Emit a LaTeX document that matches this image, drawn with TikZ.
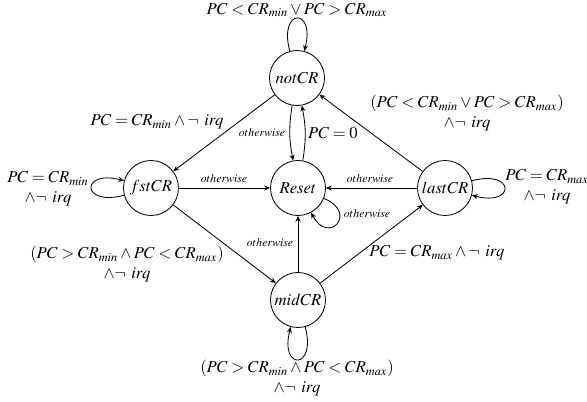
\documentclass[tikz,border=0pt]{standalone}
\usepackage{mathptmx}
\usetikzlibrary{arrows.meta}
\begin{document}
\begin{tikzpicture}[x=0.6pt,y=-0.6pt,
  state/.style={circle,draw,line width=0.5pt,minimum size=33pt,inner sep=0pt},
  tr/.style={line width=0.5pt,-{Stealth[length=3.5pt,width=3pt]}},
  lbl/.style={font=\fontsize{10}{12}\selectfont,align=center,inner sep=0pt},
  sm/.style={font=\scriptsize,inner sep=0pt}]
\useasboundingbox (0,0) rectangle (587,402);
\node[state] (not) at (297,78) {$notCR$};
\node[state] (fst) at (151,188) {$fstCR$};
\node[state] (reset) at (298,188) {$Reset$};
\node[state] (last) at (445,188) {$lastCR$};
\node[state] (mid) at (298,300) {$midCR$};

\draw[tr] (not) to[loop above] (not);
\draw[tr] (fst) to[loop left] (fst);
\draw[tr] (last) to[loop right] (last);
\draw[tr] (mid) to[loop below] (mid);
\draw[tr] (reset) to[out=-22,in=-62,looseness=5] (reset);
\draw[tr] (not) -- (fst);
\draw[tr] (not.260) to[bend right=10] (reset.100);
\draw[tr] (reset.80) to[bend right=10] (not.280);
\draw[tr] (last) -- (not);
\draw[tr] (fst) -- (reset);
\draw[tr] (last) -- (reset);
\draw[tr] (fst) -- (mid);
\draw[tr] (mid) -- (reset);
\draw[tr] (mid) -- (last);

\node[lbl] (l1) at (297,10) {$PC < CR_{min} \lor PC > CR_{max}$};
\node[lbl] (l2) at (157,122) {$PC = CR_{min} \land \neg\ irq$};
\node[sm] (l3) at (262,133) {$otherwise$};
\node[lbl] (l4) at (333,133) {$PC = 0$};
\node[lbl] (l5) at (467,113) {$(PC < CR_{min} \lor PC > CR_{max})$\\$\land\neg\ irq$};
\node[lbl] (l6) at (48,189) {$PC = CR_{min}$\\$\land\neg\ irq$};
\node[sm] (l7) at (224,179) {$otherwise$};
\node[sm] (l8) at (370,179) {$otherwise$};
\node[lbl] (l9) at (547,187) {$PC = CR_{max}$\\$\land\neg\ irq$};
\node[sm] (l10) at (367,214) {$otherwise$};
\node[sm] (l11) at (270,243) {$otherwise$};
\node[lbl] (l12) at (127,264) {$(PC > CR_{min} \land PC < CR_{max})$\\$\land\neg\ irq$};
\node[lbl] (l13) at (437,253) {$PC = CR_{max} \land \neg\ irq$};
\node[lbl] (l14) at (297,378) {$(PC > CR_{min} \land PC < CR_{max})$\\$\land\neg\ irq$};
\end{tikzpicture}
\end{document}
